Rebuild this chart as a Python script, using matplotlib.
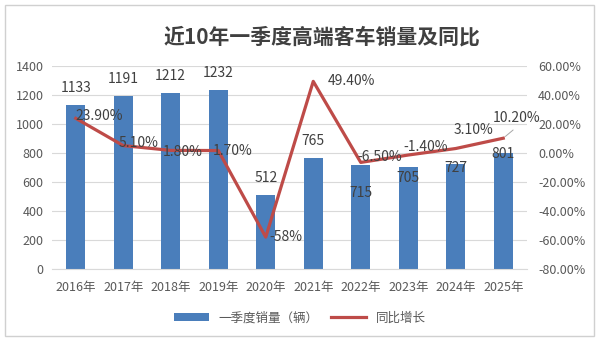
import numpy as np
import matplotlib.pyplot as plt
from matplotlib.patches import Rectangle
from matplotlib.ticker import FuncFormatter

plt.rcParams['font.family'] = ['Noto Sans CJK SC', 'DejaVu Sans']

# data
years = ['2016年', '2017年', '2018年', '2019年', '2020年',
         '2021年', '2022年', '2023年', '2024年', '2025年']
sales = [1133, 1191, 1212, 1232, 512, 765, 715, 705, 727, 801]
growth = [23.9, 5.1, 1.8, 1.7, -58, 49.4, -6.5, -1.4, 3.1, 10.2]
growth_labels = ['23.90%', '5.10%', '1.80%', '1.70%', '-58%',
                 '49.40%', '-6.50%', '-1.40%', '3.10%', '10.20%']

# label offsets in pixels (manual placement, like the original)
bar_dy = [17, 17, 17, 17, 17, 17, -28, -11, -4, -1]
line_off = [(0, 2), (-5, 3), (-8, -2), (-5, 0), (4, 0),
            (15, 0), (-3, 5), (-5, 8), (-2, 19), (-11, 20)]

bar_color = '#4a7ebb'
line_color = '#be4b48'
text_color = '#595959'
px = 0.72  # points per pixel at dpi 100

fig = plt.figure(figsize=(6, 3.46), dpi=100)
fig.patches.append(Rectangle((5 / 600, 10 / 346), 589 / 600, 331 / 346,
                             transform=fig.transFigure, fill=False,
                             edgecolor='#d0d0d0', lw=1))

ax = fig.add_axes([52 / 600, 1 - 269 / 346, 475 / 600, 203 / 346])
x = np.arange(len(years))
bars = ax.bar(x, sales, width=0.4, color=bar_color, zorder=2,
              label='一季度销量（辆）')
ax.set_xlim(-0.5, len(years) - 0.5)
ax.set_ylim(0, 1400)
ax.set_yticks(range(0, 1401, 200))
ax.set_xticks(x)
ax.set_xticklabels(years)
ax.grid(axis='y', color='#d9d9d9', lw=0.8, zorder=0)
for s in ['top', 'left', 'right']:
    ax.spines[s].set_visible(False)
ax.spines['bottom'].set_color('#d9d9d9')
ax.tick_params(length=0, labelsize=9, colors=text_color)
ax.tick_params(axis='x', pad=9)
ax.tick_params(axis='y', pad=6)

for i, v in enumerate(sales):
    ax.annotate(str(v), (x[i], v), xytext=(0, bar_dy[i] * px),
                textcoords='offset points', ha='center', va='center',
                fontsize=10, color='#404040', zorder=5)

ax2 = ax.twinx()
ax2.plot(x, growth, color=line_color, lw=2.3, zorder=3, label='同比增长')
ax2.set_ylim(-80, 60)
ax2.set_yticks(range(-80, 61, 20))
ax2.yaxis.set_major_formatter(FuncFormatter(lambda v, p: f'{v:.2f}%'))
for s in ['top', 'left', 'right', 'bottom']:
    ax2.spines[s].set_visible(False)
ax2.tick_params(length=0, labelsize=9, colors=text_color, pad=8)

for i, v in enumerate(growth):
    dx, dy = line_off[i]
    ax2.annotate(growth_labels[i], (x[i], v), xytext=(dx * px, dy * px),
                 textcoords='offset points', ha='left', va='center',
                 fontsize=10, color='#404040', zorder=6)
# leader line for the last label
ax2.annotate('', (x[-1], growth[-1]), xytext=(12 * px, 10 * px),
             textcoords='offset points',
             arrowprops=dict(arrowstyle='-', color='#a6a6a6', lw=0.7))

fig.text(322 / 600, 1 - 37 / 346, '近10年一季度高端客车销量及同比', ha='center',
         va='center', fontsize=15, fontweight='bold', color='#404040')

h1, l1 = ax.get_legend_handles_labels()
h2, l2 = ax2.get_legend_handles_labels()
fig.legend(h1 + h2, l1 + l2, loc='center', bbox_to_anchor=(0.5, 1 - 318 / 346),
           ncol=2, frameon=False, fontsize=9, labelcolor=text_color,
           handlelength=2.8, handleheight=0.6, columnspacing=1.0)

fig.savefig('out.png', dpi=100)
